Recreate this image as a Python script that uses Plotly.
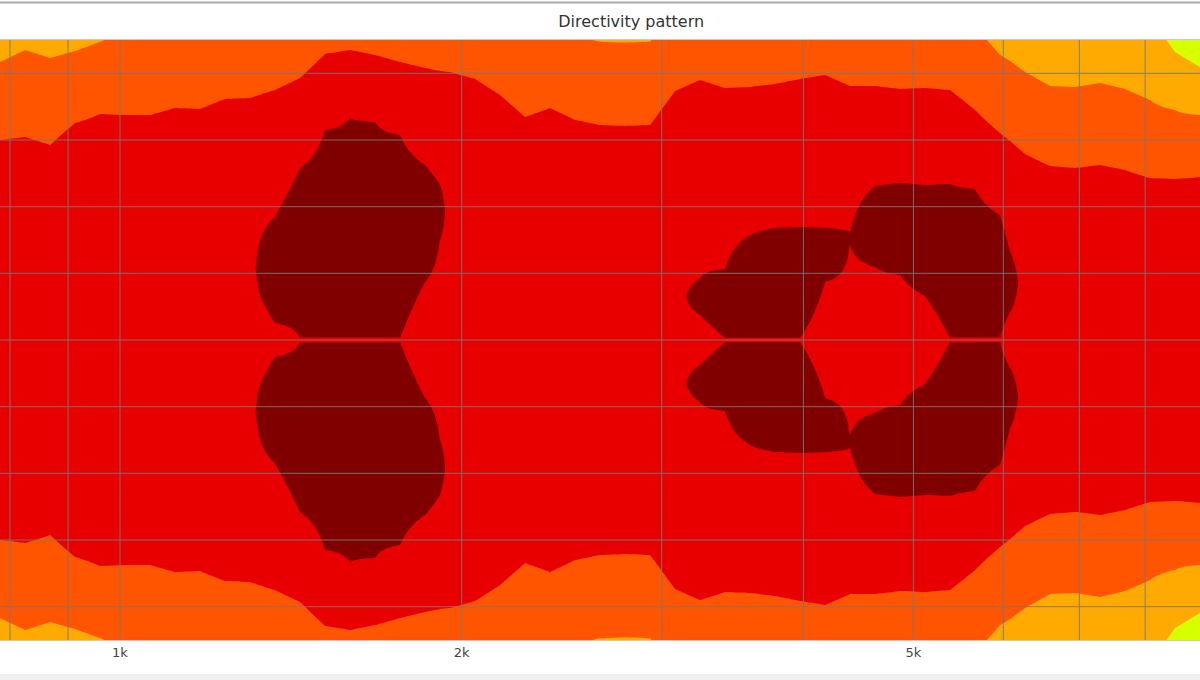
import numpy as np
import plotly.graph_objects as go

# Frequency columns (Hz) read along the log axis
freqs = [784, 825, 868, 913, 960, 1010, 1063, 1118, 1176, 1237, 1302, 1334, 1369, 1441,
         1516, 1595, 1678, 1765, 1857, 1914, 1953, 2055, 2162, 2274, 2393, 2517, 2648,
         2786, 2931, 3083, 3244, 3412, 3590, 3776, 3973, 4180, 4397, 4626, 4867, 5120,
         5386, 5666, 5961, 6084, 6271, 6597, 6940, 7301, 7681, 8080, 8500, 8942]

# Off-axis angle (deg, symmetric) where the level falls to -3 dB
minus3_deg = [60.0, 60.9, 58.5, 65.1, 67.8, 67.5, 67.5, 69.6, 69.3, 72.3, 72.6, 73.8, 75.0, 78.6,
              85.8, 87.0, 85.5, 83.4, 81.6, 80.7, 80.4, 78.3, 73.5, 66.9, 69.6, 66.0, 64.5,
              64.2, 64.5, 74.7, 78.0, 75.6, 75.9, 76.8, 78.3, 79.5, 76.2, 76.2, 75.3, 75.6,
              75.0, 69.0, 62.1, 59.7, 55.8, 52.2, 51.6, 52.5, 51.0, 48.6, 48.3, 48.9]

# Angle where the level falls to -6 dB (None = not reached within 90 deg)
minus6_deg = [83.4, 87.0, 84.6, 86.7, 89.4, None, None, None, None, None, None, None, None, None,
              None, None, None, None, None, None, None, None, None, None, None, None, None,
              None, None, None, None, None, None, None, None, None, None, None, None, None,
              None, None, 85.5, 83.7, 80.4, 76.2, 75.9, 77.1, 75.3, 72.0, 69.0, 67.5]

# Angle where the level falls to -9 dB
minus9_deg = [None] * 50 + [86.4, 81.9]

# Regions above 0 dB (normalised to on-axis): inner and outer angle
above0_in = [None, None, None, None, None, None, None, None, None, None, None, 12.0, 5.1, 0.6,
             0.6, 0.6, 0.6, 0.6, 17.4, 30.0, None, None, None, None, None, None, None,
             None, None, None, 7.5, 0.6, 0.6, 0.6, 0.6, 17.4, 28.5, 21.9, 19.5, 13.2,
             0.6, 0.6, 0.6, 8.4, None, None, None, None, None, None, None, None]
above0_out = [None, None, None, None, None, None, None, None, None, None, None, 31.5, 36.9, 51.6,
              63.0, 66.6, 65.4, 61.5, 52.5, 46.5, None, None, None, None, None, None, None,
              None, None, None, 18.6, 21.3, 31.5, 33.6, 33.9, 33.6, 32.4, 46.2, 47.1, 46.5,
              46.8, 45.3, 37.5, 26.4, None, None, None, None, None, None, None, None]

level_edges = [-12, -9, -6, -3, 0, 3]
band_colors = ["#d6ff00", "#ffaa00", "#ff5500", "#e80000", "#800000"]

grid_freqs = [800, 900, 1000, 2000, 3000, 4000, 5000, 6000, 7000, 8000, 9000]
grid_angles = [-80, -60, -40, -20, 0, 20, 40, 60, 80]
tick_vals = [1000, 2000, 5000]
tick_text = ["1k", "2k", "5k"]


def column_profile(i):
    """Piecewise-linear level vs angle through the read boundary angles."""
    pts = []
    if above0_in[i] is None:
        pts.append((0.0, -1.0))
    else:
        din, dout = above0_in[i], above0_out[i]
        z0 = -0.4 if din < 1 else -1.0
        pts += [(0.0, z0), (din, 0.0), ((din + dout) / 2, 1.5), (dout, 0.0)]
    prev = pts[-1][0]
    for lvl, a in ((-3, minus3_deg[i]), (-6, minus6_deg[i]), (-9, minus9_deg[i])):
        if a is None:
            a = prev + 25.0
        # keep a uniform gradient around each crossing so neighbouring columns blend evenly
        if a - 10.0 > prev + 1.0:
            pts.append((a - 10.0, lvl + 1.2))
        pts.append((a, lvl))
        prev = a
    pts.append((prev + 25.0, -12.0))
    return np.array(pts)


angles = np.arange(-90, 90.001, 0.25)
z = np.zeros((len(angles), len(freqs)))
for i in range(len(freqs)):
    p = column_profile(i)
    z[:, i] = np.interp(np.abs(angles), p[:, 0], p[:, 1])

zmin, zmax = level_edges[0], level_edges[-1]
cs = []
n = len(band_colors)
for k, c in enumerate(band_colors):
    cs.append([k / n, c])
    cs.append([(k + 1) / n, c])

fig = go.Figure()
fig.add_trace(go.Contour(
    x=freqs, y=angles, z=z,
    zmin=zmin, zmax=zmax, colorscale=cs, showscale=False,
    contours=dict(start=-9, end=0, size=3, coloring="fill", showlines=False),
    line=dict(width=0, smoothing=0),
    hoverinfo="skip",
))

gx, gy = [], []
for f in grid_freqs:
    gx += [f, f, None]
    gy += [-90, 90, None]
for a in grid_angles:
    gx += [600, 12000, None]
    gy += [a, a, None]
fig.add_trace(go.Scatter(x=gx, y=gy, mode="lines",
                         line=dict(color="rgba(120,120,120,0.9)", width=1),
                         hoverinfo="skip", showlegend=False))

fig.update_layout(
    width=1200, height=680,
    margin=dict(l=0, r=0, t=40, b=40),
    paper_bgcolor="white", plot_bgcolor="white",
    font=dict(family="DejaVu Sans, Liberation Sans, sans-serif", color="#444"),
    title=dict(text="Directivity pattern", x=0.526, xanchor="center",
               y=1 - 21 / 680, yanchor="middle", yref="container",
               font=dict(size=16, color="#333")),
    showlegend=False,
    xaxis=dict(type="log", range=[2.8943, 3.9514], tickvals=tick_vals, ticktext=tick_text,
               showgrid=False, zeroline=False, ticks="", tickfont=dict(size=13, color="#444"),
               showline=True, mirror=True, linecolor="#c8c8c8", linewidth=1),
    yaxis=dict(range=[-90, 90], showgrid=False, zeroline=False, showticklabels=False,
               ticks="", showline=False),
    shapes=[
        dict(type="line", xref="paper", yref="paper", x0=0, x1=1,
             y0=(640 - 2.5) / 600, y1=(640 - 2.5) / 600,
             line=dict(color="#a8a8a8", width=2)),
        dict(type="rect", xref="paper", yref="paper", x0=0, x1=1,
             y0=(640 - 680) / 600, y1=(640 - 674) / 600,
             fillcolor="#f0f0f0", line=dict(width=0)),
    ],
)

fig.write_html("out.html", config={"displayModeBar": False},
               post_script="document.body.style.margin='0';")
